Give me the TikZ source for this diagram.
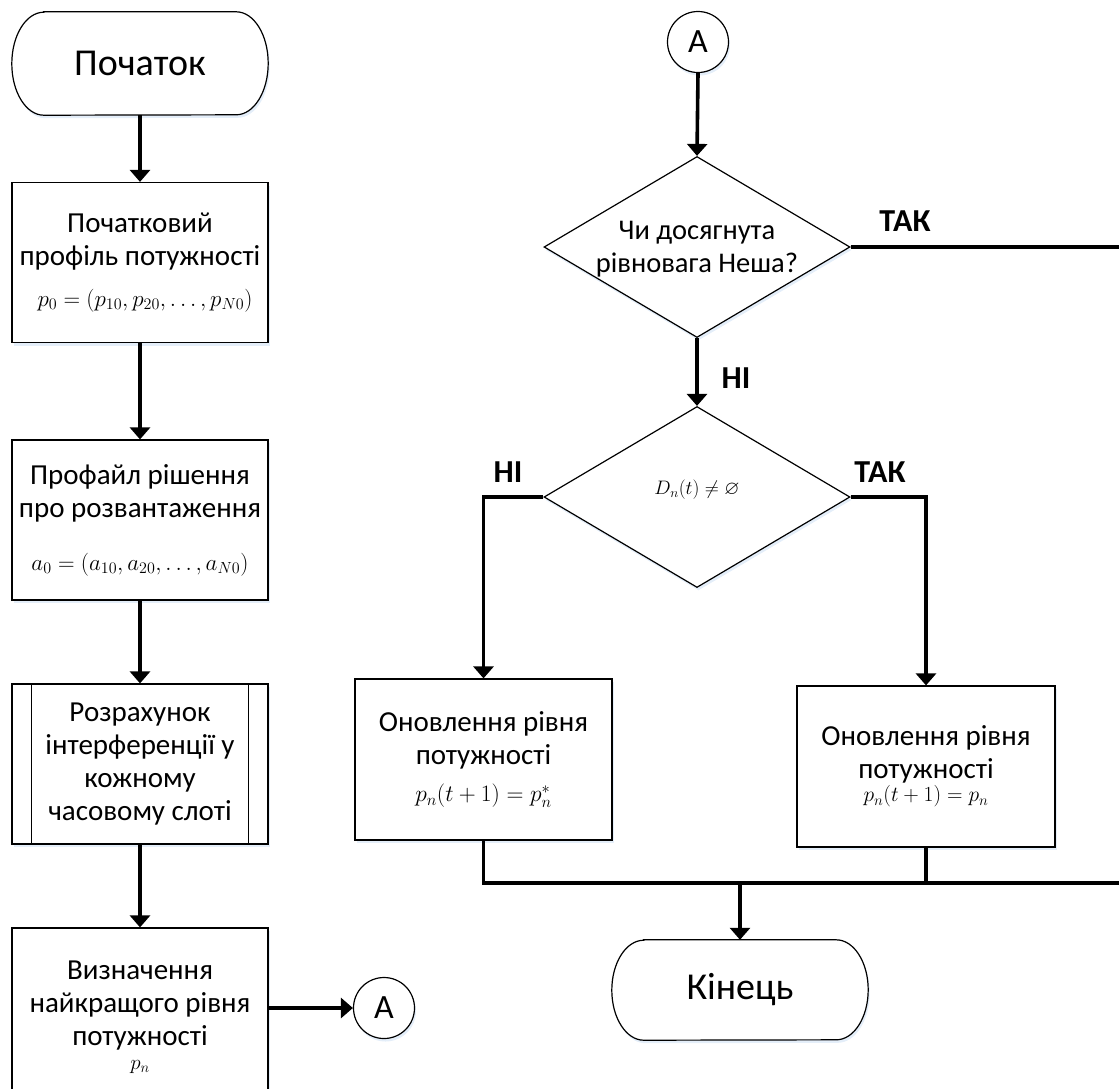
\RequirePackage{fix-cm}
\documentclass[tikz,border=0pt]{standalone}
\usepackage{amsmath,amssymb}
\usepackage{fontspec}
\setmainfont{Carlito}
\usetikzlibrary{arrows.meta,shapes.geometric,shadows,backgrounds}

\definecolor{shadowblue}{RGB}{165,198,236}

\begin{document}
\begin{tikzpicture}[x=1pt,y=1pt,
  shad/.style={drop shadow={shadow xshift=1.5pt,shadow yshift=-3pt,fill=shadowblue,opacity=0.3}},
  body/.style={font=\fontsize{29}{33}\selectfont},
  proc/.style={rectangle,draw,line width=1.2pt,fill=white,minimum width=256pt,minimum height=160pt,
               align=center,inner sep=0pt,body,shad},
  termtext/.style={minimum width=256pt,minimum height=103pt,inner sep=0pt,font=\fontsize{38}{42}\selectfont},
  termline/.style={draw,line width=1.2pt,fill=white,shad},
  conn/.style={circle,draw,line width=1.2pt,fill=white,minimum size=61pt,inner sep=0pt,font=\fontsize{34}{36}\selectfont,shad},
  decision/.style={diamond,draw,line width=1.2pt,fill=white,minimum width=306pt,minimum height=181pt,inner sep=0pt,shad},
  txt/.style={align=center,font=\fontsize{28.5}{33}\selectfont},
  lbl/.style={font=\fontsize{32}{36}\selectfont\bfseries},
  flow/.style={line width=3.6pt,-{Triangle[length=12pt,width=20pt]}},
  link/.style={line width=3.6pt}]

\useasboundingbox (0,0) rectangle (1119,-1088);
\clip (0,0) rectangle (1119,-1088);

% left column
\node[termtext] (start) at (140,-63.5) {Початок};
\node[proc] (b1) at (140,-262.5) {Початковий\\профіль потужності\\[8pt]\hspace*{10pt}{\fontsize{23}{26}\selectfont $p_0=(p_{10},p_{20},\dots,p_{N0})$}};
\node[proc] (b2) at (140,-520) {Профайл рішення\\про розвантаження\\[20pt]{\fontsize{23}{26}\selectfont $a_0=(a_{10},a_{20},\dots,a_{N0})$}};
\node[proc] (b3) at (140,-764) {Розрахунок\\інтерференції у\\кожному\\часовому слоті};
\draw[line width=1.2pt] ([xshift=20pt]b3.north west) -- ([xshift=20pt]b3.south west);
\draw[line width=1.2pt] ([xshift=-20pt]b3.north east) -- ([xshift=-20pt]b3.south east);
\node[proc,minimum height=178pt] (b4) at (140,-1017) {Визначення\\найкращого рівня\\потужності\\[-9pt]{\fontsize{21}{24}\selectfont $p_n$}};
\node[conn] (A1) at (384,-1008) {А};

% right part
\node[conn] (A0) at (698,-42) {А};
\node[decision] (d1) at (697,-247) {};
\node[txt] (q1) at (697,-249) {Чи досягнута\\рівновага Неша?};
\node[decision] (d2) at (697,-497) {};
\node (q2) at (697,-490) {\fontsize{19.5}{22}\selectfont $D_n(t)\neq\varnothing$};
\node[proc,minimum width=257pt,minimum height=161pt] (b5) at (483.5,-759.5)
  {Оновлення рівня\\потужності\\[4pt]{\fontsize{23.5}{26}\selectfont $p_n(t+1)=p_n^{*}$}};
\node[proc,minimum width=258pt,minimum height=161pt] (b6) at (926,-766.5)
  {Оновлення рівня\\потужності\\[-10pt]{\fontsize{21.5}{24}\selectfont $p_n(t+1)=p_n$}};
\node[termtext,minimum height=100pt] (end) at (740,-990) {Кінець};

% terminal outlines with elliptical ends
\begin{scope}[on background layer]
  \path[termline] ([xshift=32pt]start.north west) -- ([xshift=-32pt]start.north east)
    arc[start angle=90,end angle=-90,x radius=32pt,y radius=51.5pt]
    -- ([xshift=32pt]start.south west)
    arc[start angle=270,end angle=90,x radius=32pt,y radius=51.5pt] -- cycle;
  \path[termline] ([xshift=32pt]end.north west) -- ([xshift=-32pt]end.north east)
    arc[start angle=90,end angle=-90,x radius=32pt,y radius=50pt]
    -- ([xshift=32pt]end.south west)
    arc[start angle=270,end angle=90,x radius=32pt,y radius=50pt] -- cycle;
\end{scope}

% connectors
\coordinate (rt) at (1127,-247);
\coordinate (rb) at (1127,-883);

\draw[flow] (start.south) -- (b1.north);
\draw[flow] (b1.south) -- (b2.north);
\draw[flow] (b2.south) -- (b3.north);
\draw[flow] (b3.south) -- (b4.north);
\draw[flow] (b4.east |- A1.west) -- (A1.west);
\draw[flow] (A0.south) -- (d1.north);
\draw[flow] (d1.south) -- (d2.north);
\draw[flow] (d2.west) -| (b5.north);
\draw[flow] (d2.east) -| (b6.north);
\draw[link] (d1.east) -- (rt) -- (rb);
\draw[link] (b5.south) |- (rb);
\draw[link] (b6.south) -- (b6.south |- rb);
\draw[flow] (end.north |- rb) -- (end.north);

% branch labels
\node[lbl] at (905,-221) {ТАК};
\node[lbl] at (736,-378) {НІ};
\node[lbl] at (508,-472) {НІ};
\node[lbl] at (880,-472) {ТАК};
\end{tikzpicture}
\end{document}
